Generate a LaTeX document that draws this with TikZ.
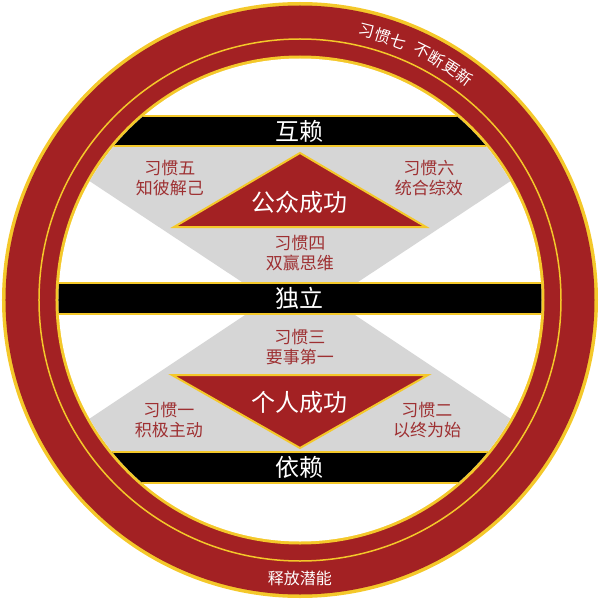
\documentclass[tikz,border=0pt]{standalone}
\usepackage{fontspec}
\newfontfamily\cjk{Noto Sans CJK SC}
\definecolor{ringred}{RGB}{163,33,35}
\definecolor{ringgold}{RGB}{244,200,42}
\definecolor{fieldgrey}{RGB}{214,214,214}
\definecolor{habitred}{RGB}{158,48,50}
\tikzstyle{every node}=[font=\cjk]
\tikzstyle{bar}=[fill=black,draw=ringgold,line width=2pt]
\tikzstyle{field}=[fill=fieldgrey]
\tikzstyle{success}=[fill=ringred,draw=ringgold,line width=2pt]
\tikzstyle{barlabel}=[white,inner sep=0pt,font=\cjk\fontsize{24}{24}\selectfont]
\tikzstyle{habit}=[habitred,align=center,inner sep=0pt,font=\cjk\fontsize{17}{20}\selectfont]
\tikzstyle{ringlabel}=[white,inner sep=0pt,font=\cjk\fontsize{16}{16}\selectfont]

\begin{document}
\begin{tikzpicture}[x=1pt,y=1pt]
    \useasboundingbox (-300,-300) rectangle (300,300);
    \fill[ringgold] (0,0) circle (298);
    \fill[ringred] (0,0) circle (294.5);
    \draw[ringgold,line width=1.5pt] (0,0) circle (261);
    \fill[ringgold] (0,0) circle (244.5);
    \fill[white] (0,0) circle (241.5);
    \begin{scope}
      \clip (0,0) circle (241.5);
      \fill[field] (-262,153)--(262,153)--(55,16)--(-55,16)--cycle;
      \fill[field] (-262,-153)--(262,-153)--(55,-15)--(-55,-15)--cycle;
      \draw[bar] (-300,154) rectangle (300,184);
      \draw[bar] (-300,-14) rectangle (300,17);
      \draw[bar] (-300,-152) rectangle (300,-183);
    \end{scope}
    \draw[success] (0,147)--(126,73)--(-126,73)--cycle;
    \draw[success] (0,-148)--(128,-75)--(-128,-75)--cycle;
    \node[barlabel] (hulai) at (0,169) {互赖};
    \node[barlabel] (duli) at (0,2) {独立};
    \node[barlabel] (yilai) at (0,-167) {依赖};
    \node[barlabel] (gongzhong) at (0,98) {公众成功};
    \node[barlabel] (geren) at (0,-102) {个人成功};
    \node[habit] (habit1) at (-131,-120) {习惯一\\积极主动};
    \node[habit] (habit2) at (127,-120) {习惯二\\以终为始};
    \node[habit] (habit3) at (0,-47) {习惯三\\要事第一};
    \node[habit] (habit4) at (0,47) {习惯四\\双赢思维};
    \node[habit] (habit5) at (-130,122) {习惯五\\知彼解己};
    \node[habit] (habit6) at (129,122) {习惯六\\统合综效};
    \foreach \a/\ch [count=\i] in {76/习,72.6/惯,69.2/七,63.8/不,60.4/断,57/更,53.6/新}
      \node[ringlabel,rotate=\a-90] (habit7\i) at (\a:277) {\ch};
    \node[ringlabel] (shifang) at (0,-278) {释放潜能};
  \end{tikzpicture}
\end{document}
